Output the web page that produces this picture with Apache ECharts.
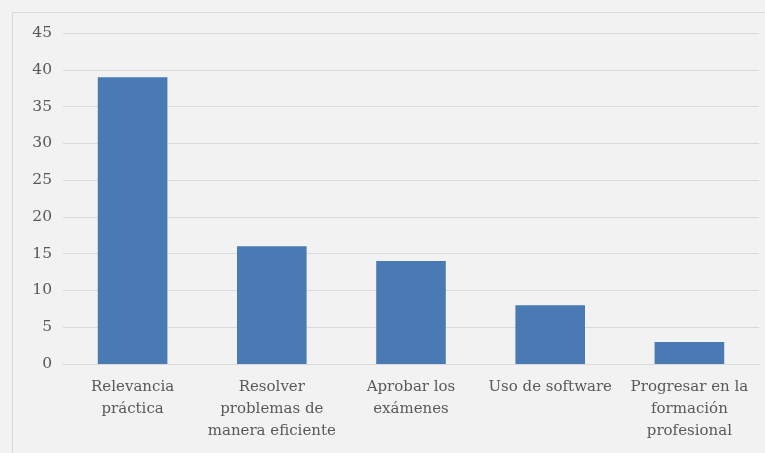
<!DOCTYPE html>
<html><head><meta charset="utf-8">
<script src="https://cdn.jsdelivr.net/npm/echarts@6/dist/echarts.min.js"></script>
<style>html,body{margin:0;padding:0;background:#f2f2f2}#c{width:765px;height:453px}</style>
</head><body><div id="c"></div>
<script>
const categories = ['Relevancia\npráctica', 'Resolver\nproblemas de\nmanera eficiente', 'Aprobar los\nexámenes', 'Uso de software', 'Progresar en la\nformación\nprofesional'];
const values = [39, 16, 14, 8, 3];
const chart = echarts.init(document.getElementById('c'));
chart.setOption({
  backgroundColor: '#f2f2f2',
  animation: false,
  graphic: [{type: 'rect', shape: {x: 12.5, y: 12.5, width: 800, height: 500}, style: {fill: 'none', stroke: '#d9d9d9', lineWidth: 1}, silent: true}],
  grid: {left: 63, right: 6, top: 33, bottom: 89},
  xAxis: {
    type: 'category', data: categories,
    axisLine: {lineStyle: {color: '#d9d9d9', width: 1}},
    axisTick: {show: false},
    axisLabel: {color: '#595959', fontFamily: 'DejaVu Serif', fontSize: 15, lineHeight: 22, margin: 12, interval: 0}
  },
  yAxis: {
    type: 'value', min: 0, max: 45, interval: 5,
    axisLine: {show: false}, axisTick: {show: false},
    splitLine: {lineStyle: {color: '#d9d9d9', width: 1}},
    axisLabel: {color: '#595959', fontFamily: 'DejaVu Serif', fontSize: 15.5, margin: 11}
  },
  series: [{type: 'bar', data: values, barWidth: '50%', itemStyle: {color: '#4a7ab4'}}]
});
</script></body></html>
